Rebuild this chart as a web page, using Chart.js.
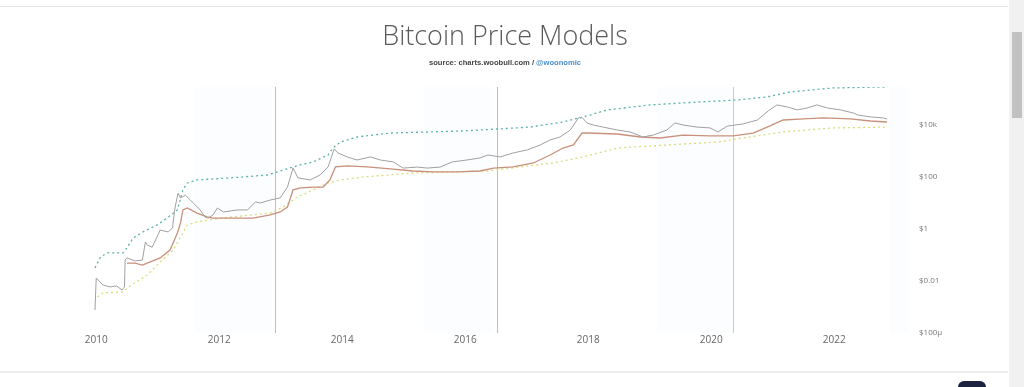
<!DOCTYPE html>
<html>
<head>
<meta charset="utf-8">
<script src="https://cdn.jsdelivr.net/npm/chart.js@4/dist/chart.umd.min.js"></script>
<style>
  html, body { margin: 0; padding: 0; background: #fff; overflow: hidden; }
  #wrap { position: absolute; left: 0; top: 0; width: 1005px; height: 370px; }
  #topline { position: absolute; left: 0; top: 6px; width: 1008px; height: 1px; background: #e4e4e4; }
  #botline { position: absolute; left: 0; top: 371px; width: 1008px; height: 2px; background: #ececec; }
  #sb { position: absolute; left: 1009px; top: 0; width: 15px; height: 387px; background: #f1f1f1; }
  #thumb { position: absolute; left: 1012px; top: 32px; width: 10px; height: 86px; background: #c1c1c1; }
  #dark { position: absolute; left: 958px; top: 381px; width: 28px; height: 10px; background: #1c2340; border-radius: 6px 6px 0 0; }
</style>
</head>
<body>
<div id="topline"></div>
<div id="wrap"><canvas id="c" width="1005" height="370"></canvas></div>
<div id="botline"></div>
<div id="sb"></div><div id="thumb"></div>
<div id="dark"></div>
<script>
// ---- Data (decimal year, USD) ----
const priceYears = [2009.98,2010.00,2010.11,2010.23,2010.33,2010.42,2010.46,2010.47,2010.50,2010.63,2010.75,2010.80,2010.83,2010.91,2011.04,2011.17,2011.24,2011.28,2011.33,2011.37,2011.45,2011.53,2011.61,2011.69,2011.77,2011.82,2011.90,2011.97,2012.07,2012.29,2012.46,2012.59,2012.67,2012.83,2012.99,2013.11,2013.20,2013.28,2013.48,2013.64,2013.77,2013.87,2013.93,2014.08,2014.24,2014.46,2014.62,2014.83,2014.99,2015.22,2015.38,2015.59,2015.79,2016.03,2016.24,2016.37,2016.57,2016.78,2017.01,2017.22,2017.38,2017.54,2017.71,2017.84,2017.90,2017.98,2018.08,2018.24,2018.47,2018.68,2018.81,2018.89,2019.06,2019.28,2019.41,2019.54,2019.77,2019.98,2020.11,2020.26,2020.52,2020.75,2020.93,2021.07,2021.24,2021.40,2021.56,2021.72,2021.89,2022.10,2022.31,2022.39,2022.59,2022.80,2022.86];
const priceUsd = [0.00077,0.013,0.0070,0.0059,0.0065,0.0045,0.0059,0.064,0.077,0.059,0.064,0.32,0.24,0.20,0.91,0.77,1.09,6.4,24,15.6,20,13,8.4,5.4,2.9,2.6,3.5,6.4,4.5,5.4,5.4,11,10,13,15.6,41,223,92,77,119,243,1200,840,590,450,590,450,380,220,240,220,240,380,450,540,700,590,840,1100,1700,2650,3450,6400,18600,19500,12000,10000,8300,6400,5400,4100,3450,4100,6400,12000,10000,8300,7700,5400,9000,11000,15500,35000,59000,49000,38000,45000,59000,45000,38000,29000,24000,20400,18600,17000];

const realizedYears = [2010.50,2010.63,2010.75,2010.88,2011.04,2011.20,2011.32,2011.37,2011.41,2011.48,2011.64,2011.80,2011.90,2012.55,2012.83,2012.99,2013.11,2013.20,2013.32,2013.53,2013.69,2013.80,2013.89,2014.08,2014.41,2014.78,2015.15,2015.48,2015.87,2016.24,2016.46,2016.78,2017.11,2017.38,2017.59,2017.76,2017.90,2017.98,2018.47,2018.85,2019.17,2019.54,2019.98,2020.36,2020.68,2020.91,2021.17,2021.50,2021.82,2022.26,2022.59,2022.86];
const realizedUsd = [0.049,0.049,0.041,0.054,0.077,0.155,0.70,1.7,5.4,6.4,4.1,2.9,2.6,2.6,3.5,4.5,7.0,32,38,41,41,77,243,265,243,204,170,156,156,170,220,243,345,700,1300,1700,4900,4900,4500,3450,3150,4100,3800,3800,4900,8300,15500,17000,18600,17000,14200,13000];

const topCapYears = [2009.98,2010.07,2010.18,2010.44,2010.50,2010.60,2010.76,2010.99,2011.15,2011.32,2011.41,2011.48,2011.64,2012.18,2012.78,2013.15,2013.32,2013.53,2013.77,2013.85,2013.97,2014.24,2014.78,2015.43,2015.97,2016.52,2017.06,2017.59,2017.92,2018.31,2019.01,2019.82,2020.42,2020.91,2021.28,2021.98,2022.86];
const topCapUsd = [0.032,0.084,0.12,0.12,0.19,0.45,0.77,1.43,2.6,5.4,32,59,77,92,119,223,290,380,700,1300,2200,3450,4900,5400,5900,7000,8300,13000,20400,38000,59000,77000,91000,120000,186000,265000,290000];

const floorYears = [2010.02,2010.11,2010.44,2010.50,2010.83,2011.04,2011.25,2011.37,2011.48,2011.64,2012.02,2012.83,2013.04,2013.27,2013.53,2013.77,2013.97,2014.34,2015.15,2015.87,2016.36,2016.89,2017.43,2017.92,2018.47,2019.28,2020.10,2020.63,2021.17,2021.98,2022.86];
const floorUsd = [0.0024,0.0035,0.0038,0.0054,0.017,0.054,0.155,0.49,1.43,1.86,2.6,4.1,7.0,17,32,59,77,100,142,156,170,243,345,590,1300,1700,2200,3450,5400,7700,8300];

const halvingYears = [2012.91, 2016.52, 2020.36];
const bandStartYears = [2011.61, 2015.32, 2019.12, 2022.90];
const bandEndYears   = [2012.86, 2016.44, 2020.31, 2023.20];

const xTickYears = [2010, 2012, 2014, 2016, 2018, 2020, 2022];
const yTickValues = [1e-4, 1e-2, 1, 100, 1e4];
const yTickLabels = ['$100\u00b5', '$0.01', '$1', '$100', '$10k'];

const titleText = 'Bitcoin Price Models';
const subtitleText = 'source: charts.woobull.com / ';
const subtitleLink = '@woonomic';

function pairs(xs, ys) { return xs.map((x, i) => ({ x: x, y: ys[i] })); }

const backdrop = {
  id: 'backdrop',
  beforeDatasetsDraw(chart) {
    const { ctx, chartArea: a, scales: { x } } = chart;
    ctx.save();
    ctx.fillStyle = '#fcfdfe';
    bandStartYears.forEach((s, i) => {
      const l = Math.max(a.left, x.getPixelForValue(s));
      const r = Math.min(a.right, x.getPixelForValue(bandEndYears[i]));
      ctx.fillRect(l, a.top, r - l, a.bottom - a.top);
    });
    const hcol = ['#f0a8a8', '#f0a8a8', '#d9bfe6'];
    halvingYears.forEach((h, i) => {
      const px = Math.round(x.getPixelForValue(h));
      ctx.fillStyle = hcol[i];
      ctx.fillRect(px, a.top, 1, a.bottom - a.top);
    });
    ctx.restore();
  }
};

const heading = {
  id: 'heading',
  afterDraw(chart) {
    const ctx = chart.ctx;
    const cx = 505;
    ctx.save();
    ctx.textBaseline = 'middle';
    ctx.textAlign = 'center';
    ctx.fillStyle = '#5a5a5a';
    ctx.font = '300 27px "Open Sans", "DejaVu Sans", sans-serif';
    ctx.fillText(titleText, cx, 37);
    ctx.font = 'bold 7.6px "Liberation Sans", Arial, sans-serif';
    const w1 = ctx.measureText(subtitleText).width;
    const w2 = ctx.measureText(subtitleLink).width;
    const start = cx - (w1 + w2) / 2;
    ctx.textAlign = 'left';
    ctx.fillStyle = '#444';
    ctx.fillText(subtitleText, start, 63);
    ctx.fillStyle = '#4a8fcc';
    ctx.fillText(subtitleLink, start + w1, 63);
    ctx.restore();
  }
};

const lineBase = { pointRadius: 0, pointHoverRadius: 0, tension: 0, fill: false };

new Chart(document.getElementById('c'), {
  type: 'line',
  data: {
    datasets: [
      Object.assign({ label: 'Price', data: pairs(priceYears, priceUsd), borderColor: '#a0a0a0', borderWidth: 1 }, lineBase),
      Object.assign({ label: 'Realized Price', data: pairs(realizedYears, realizedUsd), borderColor: '#c9907c', borderWidth: 1.3 }, lineBase),
      Object.assign({ label: 'Top Cap', data: pairs(topCapYears, topCapUsd), borderColor: '#5ab3aa', borderWidth: 1.3, borderDash: [2, 3] }, lineBase),
      Object.assign({ label: 'Floor', data: pairs(floorYears, floorUsd), borderColor: '#dadd7c', borderWidth: 1.3, borderDash: [2, 3] }, lineBase)
    ]
  },
  options: {
    responsive: false,
    animation: false,
    layout: { padding: { left: 87, right: 0, top: 87, bottom: 17 } },
    plugins: { legend: { display: false }, tooltip: { enabled: false }, title: { display: false } },
    scales: {
      x: {
        type: 'linear', min: 2009.85, max: 2023.2,
        grid: { display: false, drawTicks: false },
        border: { display: false },
        afterBuildTicks: s => { s.ticks = xTickYears.map(v => ({ value: v })); },
        afterFit: s => { s.height = 20; },
        ticks: { padding: 1, color: '#666', font: { family: '"Open Sans", sans-serif', size: 10 }, maxRotation: 0, autoSkip: false, callback: v => String(v) }
      },
      y: {
        type: 'logarithmic', position: 'right', min: 1e-4, max: Math.pow(10, 5.46),
        grid: { display: false, drawTicks: false },
        border: { display: false },
        afterBuildTicks: s => { s.ticks = yTickValues.map(v => ({ value: v })); },
        afterFit: s => { s.width = 97; },
        ticks: { padding: 11, color: '#777', font: { family: '"Open Sans", sans-serif', size: 8 }, autoSkip: false,
          callback: (v) => { const i = yTickValues.indexOf(v); return i >= 0 ? yTickLabels[i] : ''; } }
      }
    }
  },
  plugins: [backdrop, heading]
});
</script>
</body>
</html>
